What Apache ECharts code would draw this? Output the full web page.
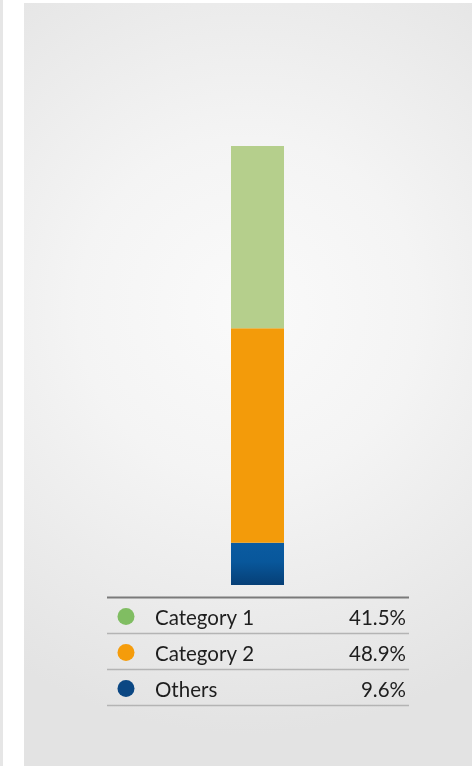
<!DOCTYPE html>
<html><head><meta charset="utf-8">
<script src="https://cdn.jsdelivr.net/npm/echarts@6/dist/echarts.min.js"></script>
<style>html,body{margin:0;padding:0;background:#fff}#c{width:472px;height:766px}</style>
</head><body><div id="c"></div>
<script>
var categories = ['Category 1', 'Category 2', 'Others'];
var values = [41.5, 48.9, 9.6];
var valueLabels = ['41.5%', '48.9%', '9.6%'];
var barColors = ['#b5cf8c', '#f39b0a', null];
var dotColors = ['#80bd62', '#f59c0b', '#0b4783'];

var chart = echarts.init(document.getElementById('c'));
var blueGrad = new echarts.graphic.LinearGradient(0, 0, 0, 1, [
  {offset: 0, color: '#0a5ba1'}, {offset: 0.45, color: '#08579b'}, {offset: 1, color: '#063f76'}
]);

// bottom-first stacking order: Others, Category 2, Category 1
var order = [2, 1, 0];
var series = order.map(function (i) {
  return {
    name: categories[i], type: 'bar', stack: 's', barWidth: '100%',
    data: [values[i]],
    itemStyle: {color: barColors[i] || blueGrad},
    silent: true
  };
});

var graphics = [
  {type: 'rect', z: -10, shape: {x: 0, y: 0, width: 3, height: 766}, style: {fill: '#e6e6e6'}},
  {type: 'rect', z: -10, shape: {x: 24, y: 3, width: 448, height: 763},
   style: {fill: {type: 'radial', x: 0.5, y: 0.4, r: 0.95, colorStops: [
     {offset: 0, color: '#fafafa'}, {offset: 0.4, color: '#f4f4f4'}, {offset: 1, color: '#e3e3e3'}]}}}
];
var tableTop = 597.5, rowH = 36, tx0 = 107, tx1 = 409;
graphics.push({type: 'line', shape: {x1: tx0, y1: tableTop, x2: tx1, y2: tableTop}, style: {stroke: '#7a7a7a', lineWidth: 2}});
categories.forEach(function (name, i) {
  var yMid = tableTop + rowH * i + rowH / 2 + 1;
  var yLine = tableTop + rowH * (i + 1);
  graphics.push({type: 'line', shape: {x1: tx0, y1: yLine, x2: tx1, y2: yLine}, style: {stroke: '#b4b4b4', lineWidth: 1.5}});
  graphics.push({type: 'circle', shape: {cx: 126, cy: yMid, r: 8.5}, style: {fill: dotColors[i]}});
  graphics.push({type: 'text', x: 155, y: yMid + 2, style: {text: name, fill: '#1e1e1e', font: '20.5px Lato', textVerticalAlign: 'middle', textAlign: 'left'}});
  graphics.push({type: 'text', x: 406, y: yMid + 2, style: {text: valueLabels[i], fill: '#1e1e1e', font: '20.5px Lato', textVerticalAlign: 'middle', textAlign: 'right'}});
});

chart.setOption({
  animation: false,
  grid: {left: 231, width: 53, top: 146, bottom: 181},
  xAxis: {type: 'category', data: [''], show: false},
  yAxis: {type: 'value', min: 0, max: 100, show: false},
  series: series,
  graphic: graphics
});
</script></body></html>
